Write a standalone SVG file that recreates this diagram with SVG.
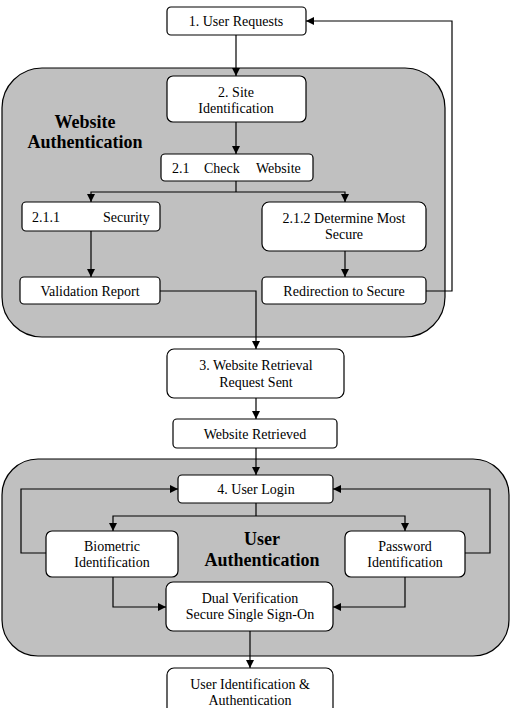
<svg xmlns="http://www.w3.org/2000/svg" width="515" height="708" viewBox="0 0 515 708">
<style>
.panel{fill:#c0c0c0;stroke:#000;stroke-width:1.2}
.box{fill:#fff;stroke:#000;stroke-width:1.2}
.t{font-family:"Liberation Serif","Times New Roman",serif;font-size:14px;fill:#000;text-anchor:middle}
.s{text-anchor:start}
.b{font-family:"Liberation Serif","Times New Roman",serif;font-size:18px;font-weight:bold;fill:#000;text-anchor:middle}
.c{fill:none;stroke:#000;stroke-width:1.2}
</style>
<defs>
<marker id="a" viewBox="0 0 10 10" refX="10" refY="5" markerWidth="8" markerHeight="8" markerUnits="userSpaceOnUse" orient="auto">
<path d="M0,0 L10,5 L0,10 Z" fill="#000"/>
</marker>
</defs>
<rect width="515" height="708" fill="#fff"/>
<g id="panel-website">
<rect class="panel" x="2" y="68" width="443" height="269" rx="40" ry="40"/>
<text class="b" x="85" y="128">Website</text>
<text class="b" x="85" y="148">Authentication</text>
</g>
<g id="panel-user">
<rect class="panel" x="2" y="459" width="507" height="197" rx="36" ry="36"/>
<text class="b" x="262" y="545">User</text>
<text class="b" x="262" y="566">Authentication</text>
</g>
<g id="n1"><rect class="box" x="167" y="7" width="139" height="28" rx="4"/><text class="t" x="236" y="26">1. User Requests</text></g>
<g id="n2"><rect class="box" x="167" y="76" width="139" height="46" rx="6"/><text class="t" x="236" y="97">2. Site</text><text class="t" x="236" y="113">Identification</text></g>
<g id="n21"><rect class="box" x="161" y="154" width="152" height="27" rx="4"/><text class="t s" x="172" y="173">2.1</text><text class="t s" x="204" y="173">Check</text><text class="t s" x="256" y="173">Website</text></g>
<g id="n211"><rect class="box" x="22" y="202" width="138" height="29" rx="4"/><text class="t s" x="32" y="222">2.1.1</text><text class="t s" x="103" y="222">Security</text></g>
<g id="n212"><rect class="box" x="262" y="202" width="164" height="49" rx="7"/><text class="t" x="344" y="223">2.1.2 Determine Most</text><text class="t" x="344" y="239">Secure</text></g>
<g id="nval"><rect class="box" x="20" y="277" width="140" height="27" rx="4"/><text class="t" x="90" y="296">Validation Report</text></g>
<g id="nred"><rect class="box" x="262" y="277" width="164" height="27" rx="4"/><text class="t" x="344" y="296">Redirection to Secure</text></g>
<g id="n3"><rect class="box" x="167" y="349" width="177" height="49" rx="7"/><text class="t" x="256" y="370">3. Website Retrieval</text><text class="t" x="256" y="387">Request Sent</text></g>
<g id="nwr"><rect class="box" x="173" y="419" width="164" height="29" rx="4"/><text class="t" x="255" y="439">Website Retrieved</text></g>
<g id="n4"><rect class="box" x="178" y="475" width="155" height="28" rx="4"/><text class="t" x="256" y="494">4. User Login</text></g>
<g id="nbio"><rect class="box" x="46" y="531" width="132" height="46" rx="6"/><text class="t" x="112" y="551">Biometric</text><text class="t" x="112" y="567">Identification</text></g>
<g id="npw"><rect class="box" x="345" y="531" width="120" height="46" rx="6"/><text class="t" x="405" y="551">Password</text><text class="t" x="405" y="567">Identification</text></g>
<g id="ndual"><rect class="box" x="166" y="582" width="167" height="49" rx="7"/><text class="t" x="250" y="603">Dual Verification</text><text class="t" x="250" y="619">Secure Single Sign-On</text></g>
<g id="nfinal"><rect class="box" x="167" y="668" width="166" height="50" rx="7"/><text class="t" x="250" y="689">User Identification &amp;</text><text class="t" x="250" y="705">Authentication</text></g>
<g id="connectors">
<path class="c" d="M236,35 V76" marker-end="url(#a)"/>
<path class="c" d="M236,122 V154" marker-end="url(#a)"/>
<path class="c" d="M236,181 V192"/>
<path class="c" d="M236,192 H91 V202" marker-end="url(#a)"/>
<path class="c" d="M236,192 H345 V202" marker-end="url(#a)"/>
<path class="c" d="M91,231 V277" marker-end="url(#a)"/>
<path class="c" d="M345,251 V277" marker-end="url(#a)"/>
<path class="c" d="M426,291 H452 V21 H306" marker-end="url(#a)"/>
<path class="c" d="M160,291 H256 V349" marker-end="url(#a)"/>
<path class="c" d="M256,398 V419" marker-end="url(#a)"/>
<path class="c" d="M256,448 V475" marker-end="url(#a)"/>
<path class="c" d="M256,503 V516"/>
<path class="c" d="M256,516 H113 V531" marker-end="url(#a)"/>
<path class="c" d="M256,516 H405 V531" marker-end="url(#a)"/>
<path class="c" d="M46,553 H21 V489 H178" marker-end="url(#a)"/>
<path class="c" d="M465,553 H490 V489 H333" marker-end="url(#a)"/>
<path class="c" d="M113,577 V607 H166" marker-end="url(#a)"/>
<path class="c" d="M405,577 V607 H333" marker-end="url(#a)"/>
<path class="c" d="M250,631 V668" marker-end="url(#a)"/>
</g>
</svg>
